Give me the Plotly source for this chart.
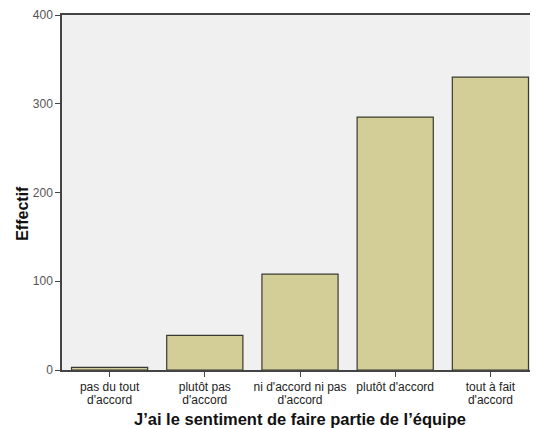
import plotly.graph_objects as go

# tick labels, split in two rows (SPSS style, tight line spacing)
labels_top = ["pas du tout", "plutôt pas", "ni d'accord ni pas", "plutôt d'accord", "tout à fait"]
labels_bottom = ["d'accord", "d'accord", "d'accord", "", "d'accord"]
effectif = [3, 39, 108, 285, 330]
y_ticks = [0, 100, 200, 300, 400]

pos = list(range(len(effectif)))

fig = go.Figure()
fig.add_trace(
    go.Bar(
        x=pos,
        y=effectif,
        width=0.8,
        marker=dict(color="#D3CE97", line=dict(color="#3a3a30", width=1.2)),
    )
)
# invisible trace so the second tick row is drawn
fig.add_trace(go.Scatter(x=pos, y=effectif, xaxis="x2", mode="markers",
                         marker=dict(opacity=0), hoverinfo="skip"))

# page has an 8px body margin, so the figure is a bit smaller than the window
fig.update_layout(
    width=530, height=420,
    margin=dict(l=54, r=0, t=7, b=58, autoexpand=False),
    paper_bgcolor="white",
    plot_bgcolor="#F0F0F0",
    showlegend=False,
    font=dict(family="Liberation Sans, Arial", size=12, color="#333"),
    xaxis=dict(
        tickvals=pos,
        ticktext=labels_top,
        range=[-0.5, 4.5],
        automargin=False,
        showline=True, linecolor="#444", linewidth=1.5, mirror=True,
        ticks="outside", ticklen=5, tickcolor="#444",
        showgrid=False, zeroline=False,
        tickfont=dict(size=12, color="#222"),
        ticklabelstandoff=0,
        title=dict(text="<b>J’ai le sentiment de faire partie de l’équipe</b>",
                   font=dict(size=16.5, color="#111"), standoff=20),
    ),
    xaxis2=dict(
        overlaying="x", matches="x", anchor="y", side="bottom",
        tickvals=pos,
        ticktext=labels_bottom,
        automargin=False,
        showline=False, showgrid=False, zeroline=False,
        ticks="outside", ticklen=19, tickcolor="rgba(0,0,0,0)",
        tickfont=dict(size=12, color="#222"),
        ticklabelstandoff=0,
    ),
    yaxis=dict(
        range=[0, 400],
        tickvals=y_ticks,
        automargin=False,
        showline=True, linecolor="#444", linewidth=1.5,
        ticks="outside", ticklen=5, tickcolor="#444",
        showgrid=False, zeroline=False,
        tickfont=dict(size=12, color="#555"),
    ),
)

# y title sits a bit below the middle of the axis, as in the original
fig.add_annotation(
    text="<b>Effectif</b>", textangle=-90,
    xref="paper", yref="paper", x=0, y=0.44,
    xanchor="center", yanchor="middle", xshift=-39,
    showarrow=False, font=dict(size=16, color="#111"),
)

fig.write_html("out.html")
